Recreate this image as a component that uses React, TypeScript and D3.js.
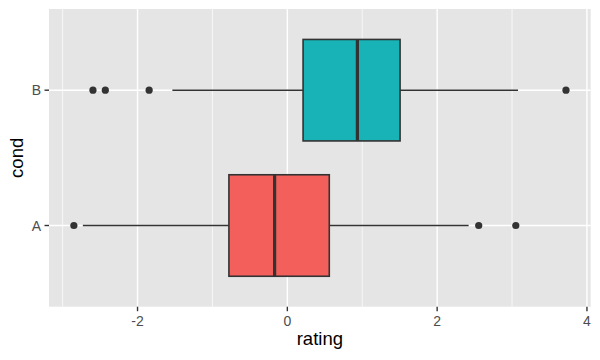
import React from 'react';
import * as d3 from 'd3';

// box statistics per condition
const conds = ['A', 'B'];
const q1 = [-0.78, 0.21];
const med = [-0.17, 0.935];
const q3 = [0.56, 1.505];
const whiskLo = [-2.73, -1.535];
const whiskHi = [2.42, 3.08];
const outliers = [
  [-2.85, 2.555, 3.05],
  [-2.595, -2.43, -1.845, 3.72],
];
const fills = ['#F3605C', '#17B3B7'];
const xTicks = [-2, 0, 2, 4];
const xMinor = [-3, -1, 1, 3];

const W = 600, H = 360;
const M = { top: 9, right: 9.3, bottom: 53.3, left: 49 };
const FONT = '"Liberation Sans", Arial, Helvetica, sans-serif';

export default function App() {
  const pw = W - M.left - M.right, ph = H - M.top - M.bottom;
  const x = d3.scaleLinear().domain([-3.182, 4.05]).range([0, pw]);
  // discrete axis: positions 1..n with 0.6 expansion, like ggplot
  const y = d3.scaleLinear().domain([0.4, conds.length + 0.6]).range([ph, 0]);
  const bw = (y(1) - y(1.75));

  return (
    <div style={{ position: 'absolute', left: 0, top: 0 }}>
      <svg width={W} height={H} style={{ display: 'block', fontFamily: FONT }}>
        <rect width={W} height={H} fill="#fff" />
        <g transform={`translate(${M.left},${M.top})`}>
          <rect width={pw} height={ph} fill="#E5E5E5" />
          {xMinor.map(v => (
            <line key={'m' + v} x1={x(v)} x2={x(v)} y1={0} y2={ph} stroke="#fff" strokeWidth={0.7} />
          ))}
          {xTicks.map(v => (
            <line key={'g' + v} x1={x(v)} x2={x(v)} y1={0} y2={ph} stroke="#fff" strokeWidth={1.4} />
          ))}
          {conds.map((c, i) => (
            <line key={'h' + c} x1={0} x2={pw} y1={y(i + 1)} y2={y(i + 1)} stroke="#fff" strokeWidth={1.4} />
          ))}

          {conds.map((c, i) => {
            const cy = y(i + 1);
            return (
              <g key={c}>
                <line x1={x(whiskLo[i])} x2={x(q1[i])} y1={cy} y2={cy} stroke="#333" strokeWidth={1.6} />
                <line x1={x(q3[i])} x2={x(whiskHi[i])} y1={cy} y2={cy} stroke="#333" strokeWidth={1.6} />
                <rect x={x(q1[i])} y={cy - bw / 2} width={x(q3[i]) - x(q1[i])} height={bw}
                  fill={fills[i]} stroke="#333" strokeWidth={1.6} />
                <line x1={x(med[i])} x2={x(med[i])} y1={cy - bw / 2} y2={cy + bw / 2} stroke="#333" strokeWidth={3.2} />
                {outliers[i].map((o, j) => (
                  <circle key={j} cx={x(o)} cy={cy} r={3.6} fill="#333" />
                ))}
              </g>
            );
          })}

          {/* x axis */}
          {xTicks.map(v => (
            <g key={'t' + v} transform={`translate(${x(v)},${ph})`}>
              <line y1={0} y2={4.5} stroke="#333" strokeWidth={1.4} />
              <text y={19} textAnchor="middle" fontSize={14} fill="#4D4D4D">{v < 0 ? '-' + Math.abs(v) : v}</text>
            </g>
          ))}
          {/* y axis */}
          {conds.map((c, i) => (
            <g key={'y' + c} transform={`translate(0,${y(i + 1)})`}>
              <line x1={-4.5} x2={0} stroke="#333" strokeWidth={1.4} />
              <text x={-8} dy="0.36em" textAnchor="end" fontSize={14} fill="#4D4D4D">{c}</text>
            </g>
          ))}
          <text x={pw / 2} y={ph + 38} textAnchor="middle" fontSize={18.5} fill="#000">rating</text>
          <text transform={`translate(${-25.7},${ph / 2}) rotate(-90)`} textAnchor="middle" fontSize={18.5} fill="#000">cond</text>
        </g>
      </svg>
    </div>
  );
}
